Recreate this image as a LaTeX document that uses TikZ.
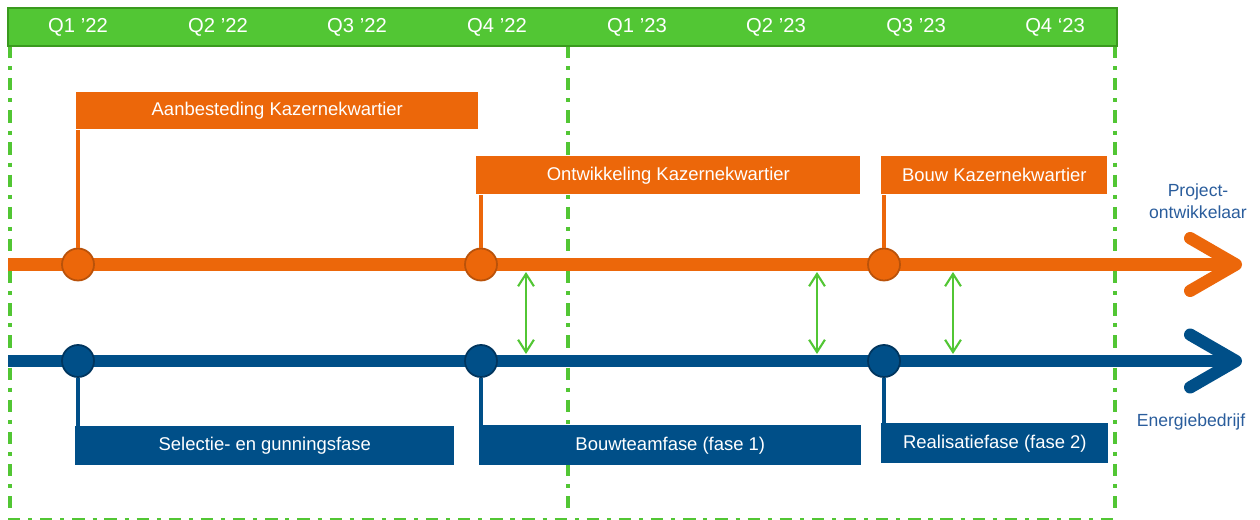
\documentclass[tikz,border=0pt]{standalone}
\usepackage{fontspec}
\setmainfont{Liberation Sans}
\usetikzlibrary{arrows.meta}

\definecolor{kzorange}{HTML}{EC670A}
\definecolor{kzorangedark}{HTML}{B9520A}
\definecolor{kzblue}{HTML}{004F88}
\definecolor{kzbluedark}{HTML}{00355E}
\definecolor{kzgreen}{HTML}{52C634}
\definecolor{kzgreendark}{HTML}{3A9A1E}
\definecolor{kzlabel}{HTML}{2A5D9C}

\tikzset{
  quarter/.style={text=white,font=\fontsize{11.5}{13}\selectfont},
  phasebox/.style={rectangle,anchor=north west,inner sep=0pt,text=white,
    font=\fontsize{10.5}{12}\selectfont},
  milestone/.style={circle,minimum size=0.64cm,inner sep=0pt,line width=1pt},
  gridline/.style={kzgreen,line width=1.8pt,
    dash pattern=on 7pt off 4.5pt on 2.3pt off 4.5pt},
  sync/.style={kzgreen,line width=1.2pt,
    {Straight Barb[length=7pt,width=9pt]}-{Straight Barb[length=7pt,width=9pt]}},
  track/.style={line width=7pt,-{Straight Barb[length=26pt,width=30pt,round]}},
  stem/.style={line width=2.3pt}
}

\begin{document}
\begin{tikzpicture}[x=0.02cm,y=-0.02cm]

      \useasboundingbox (0,0) rectangle (1260,520);

      \draw[gridline] (10,46) -- (10,516);
      \draw[gridline] (568,46) -- (568,516);
      \draw[gridline] (1115,46) -- (1115,516);
      \draw[gridline] (8,520) -- (1115,520);

      \filldraw[fill=kzgreen,draw=kzgreendark,line width=1.2pt] (8,8) rectangle (1117,46);

      \begin{scope}[every node/.style={quarter}]
        \node (q1) at (78,27)   {Q1 ’22};
        \node (q2) at (218,27)  {Q2 ’22};
        \node (q3) at (357,27)  {Q3 ’22};
        \node (q4) at (497,27)  {Q4 ’22};
        \node (q5) at (637,27)  {Q1 ’23};
        \node (q6) at (776,27)  {Q2 ’23};
        \node (q7) at (916,27)  {Q3 ’23};
        \node (q8) at (1055,27) {Q4 ‘23};
      \end{scope}

      \coordinate (pstart) at (8,264.5);
      \coordinate (pend)   at (1242,264.5);
      \coordinate (estart) at (8,361);
      \coordinate (eend)   at (1242,361);

      \draw[track,kzorange] (pstart) -- (pend);
      \draw[track,kzblue] (estart) -- (eend);

      \begin{scope}[every node/.style={phasebox,fill=kzorange}]
        \node[minimum width=8.04cm,minimum height=0.74cm] (pa) at (76,92)   {Aanbesteding Kazernekwartier};
        \node[minimum width=7.68cm,minimum height=0.76cm] (pb) at (476,156) {Ontwikkeling Kazernekwartier};
        \node[minimum width=4.52cm,minimum height=0.76cm] (pc) at (881,156) {Bouw Kazernekwartier};
      \end{scope}

      \begin{scope}[every node/.style={phasebox,fill=kzblue}]
        \node[minimum width=7.58cm,minimum height=0.78cm] (ea) at (75,426)  {Selectie- en gunningsfase};
        \node[minimum width=7.64cm,minimum height=0.80cm] (eb) at (479,425) {Bouwteamfase (fase 1)};
        \node[minimum width=4.54cm,minimum height=0.80cm] (ec) at (881,423) {Realisatiefase (fase 2)};
      \end{scope}

      \begin{scope}[every node/.style={milestone,fill=kzorange,draw=kzorangedark}]
        \node (p1) at (78,264.5)  {};
        \node (p2) at (481,264.5) {};
        \node (p3) at (884,264.5) {};
      \end{scope}

      \begin{scope}[every node/.style={milestone,fill=kzblue,draw=kzbluedark}]
        \node (e1) at (78,361)  {};
        \node (e2) at (481,361) {};
        \node (e3) at (884,361) {};
      \end{scope}

      \begin{scope}[every path/.style={stem}]
        \draw[kzorange] (p1.north) -- (p1 |- pa.south);
        \draw[kzorange] (p2.north) -- (p2 |- pb.south);
        \draw[kzorange] (p3.north) -- (p3 |- pc.south);
        \draw[kzblue] (e1.south) -- (e1 |- ea.north);
        \draw[kzblue] (e2.south) -- (e2 |- eb.north);
        \draw[kzblue] (e3.south) -- (e3 |- ec.north);
      \end{scope}

      \coordinate (s1) at (526,272);
      \coordinate (t1) at (526,354);
      \coordinate (s2) at (817,272);
      \coordinate (t2) at (817,354);
      \coordinate (s3) at (953,272);
      \coordinate (t3) at (953,354);
      \draw[sync] (s1) -- (t1);
      \draw[sync] (s2) -- (t2);
      \draw[sync] (s3) -- (t3);

      \begin{scope}[every node/.style={text=kzlabel,font=\fontsize{10}{12.5}\selectfont}]
        \node[align=center] (pol) at (1198,201) {Project-\\ontwikkelaar};
        \node (ebl) at (1191,422) {Energiebedrijf};
      \end{scope}

    \end{tikzpicture}
\end{document}
